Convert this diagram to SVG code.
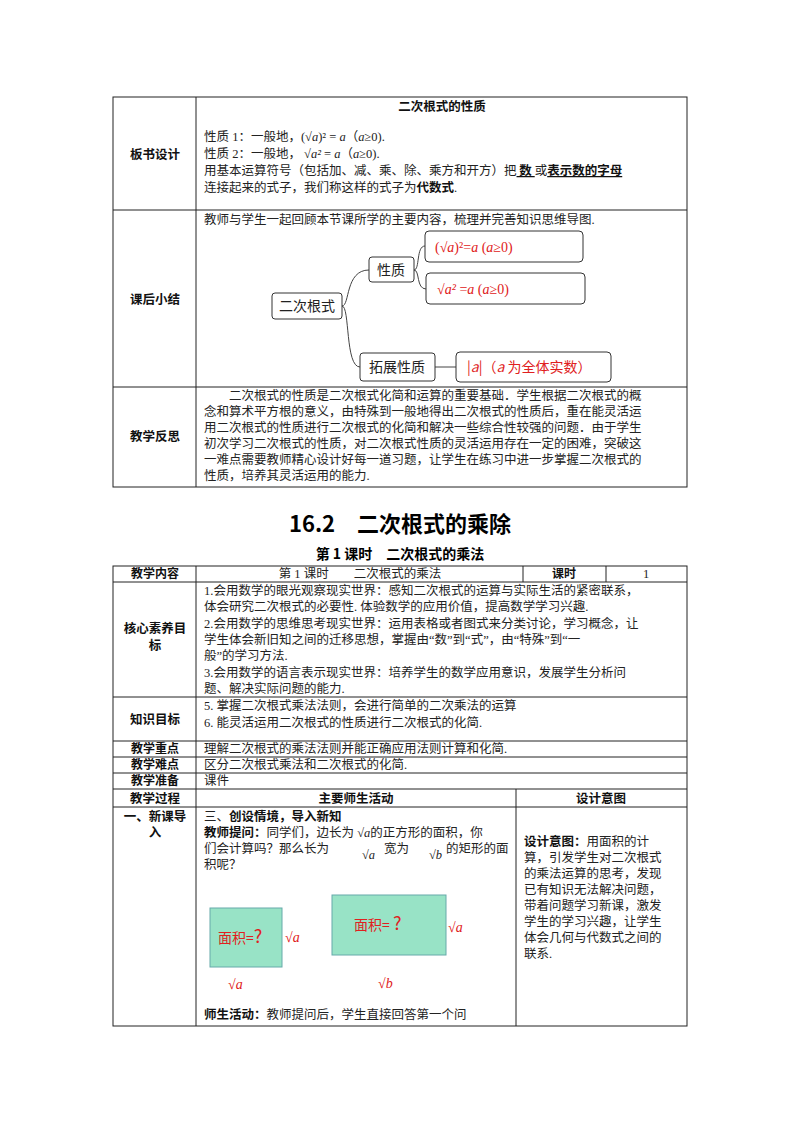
<svg xmlns="http://www.w3.org/2000/svg" width="800" height="1132" viewBox="0 0 800 1132">
<style>
.t{font-family:"Liberation Serif","Noto Sans CJK SC",serif;font-size:12.5px;fill:#222}
.b{font-family:"Noto Sans CJK SC",sans-serif;font-size:12.5px;font-weight:bold;fill:#111}
.s{font-size:12px}
.r{font-family:"Liberation Serif","Noto Sans CJK SC",serif;font-size:14px;fill:#e02020}
.rs{font-family:"Noto Sans CJK SC",sans-serif;font-size:14px;fill:#e02020}
.n{font-family:"Noto Sans CJK SC",sans-serif;font-size:14px;fill:#222}
.g line,.g rect{stroke:#222;stroke-width:1;fill:none}
.box{fill:#fff;stroke:#333;stroke-width:1}
.c{fill:none;stroke:#444;stroke-width:1}
.sq{fill:#98e3c6;stroke:#6aa;stroke-width:1}
</style>
<rect width="800" height="1132" fill="#fff"/>
<g class="g" id="table1">
<rect x="113" y="97" width="574" height="390"/>
<line x1="196" y1="97" x2="196" y2="487"/>
<line x1="113" y1="210" x2="687" y2="210"/>
<line x1="113" y1="387" x2="687" y2="387"/>
</g>
<text class="b" x="155" y="159" text-anchor="middle">板书设计</text>
<text class="b" x="155" y="304" text-anchor="middle">课后小结</text>
<text class="b" x="155" y="441" text-anchor="middle">教学反思</text>
<text class="b" x="442" y="111" text-anchor="middle">二次根式的性质</text>
<text class="t" x="204" y="141">性质 1：一般地，(<tspan font-style="italic">√a</tspan>)² = <tspan font-style="italic">a</tspan>（<tspan font-style="italic">a</tspan>≥0).</text>
<text class="t" x="204" y="158">性质 2：一般地，   <tspan font-style="italic">√a²</tspan> = <tspan font-style="italic">a</tspan>（<tspan font-style="italic">a</tspan>≥0).</text>
<text class="t" x="204" y="175">用基本运算符号（包括加、减、乘、除、乘方和开方）把<tspan class="b" text-decoration="underline">  数  </tspan>或<tspan class="b" text-decoration="underline">表示数的字母</tspan></text>
<text class="t" x="204" y="192">连接起来的式子，我们称这样的式子为<tspan class="b">代数式</tspan>.</text>
<text class="t" x="204" y="224">教师与学生一起回顾本节课所学的主要内容，梳理并完善知识思维导图.</text>
<g id="connectors">
<path class="c" d="M342,306 C350,306 345,270 369,270"/>
<path class="c" d="M342,306 C350,306 345,367 360,367"/>
<path class="c" d="M414,270 C420,270 416,246 425,246"/>
<path class="c" d="M414,270 C420,270 416,289 426,289"/>
<path class="c" d="M435,367 L456,367"/>
</g>
<g id="n1"><rect class="box" x="272" y="293" width="70" height="26" rx="3"/><text class="n" x="307" y="311" text-anchor="middle">二次根式</text></g>
<g id="n2"><rect class="box" x="369" y="257" width="45" height="25" rx="3"/><text class="n" x="391" y="275" text-anchor="middle">性质</text></g>
<g id="n3"><rect class="box" x="425" y="231" width="158" height="31" rx="4"/><text class="r" x="435" y="252">(<tspan font-style="italic">√a</tspan>)²=<tspan font-style="italic">a</tspan> (<tspan font-style="italic">a</tspan>≥0)</text></g>
<g id="n4"><rect class="box" x="426" y="273" width="159" height="31" rx="4"/><text class="r" x="437" y="294"><tspan font-style="italic">√a²</tspan> =<tspan font-style="italic">a</tspan> (<tspan font-style="italic">a</tspan>≥0)</text></g>
<g id="n5"><rect class="box" x="360" y="353" width="75" height="28" rx="3"/><text class="n" x="397" y="372" text-anchor="middle">拓展性质</text></g>
<g id="n6"><rect class="box" x="456" y="352" width="155" height="30" rx="4"/><text class="rs" x="467" y="372">|<tspan font-style="italic">a</tspan>|（<tspan font-style="italic">a</tspan> 为全体实数）</text></g>
<text class="t" x="229" y="400">二次根式的性质是二次根式化简和运算的重要基础．学生根据二次根式的概</text>
<text class="t" x="204" y="416">念和算术平方根的意义，由特殊到一般地得出二次根式的性质后，重在能灵活运</text>
<text class="t" x="204" y="432">用二次根式的性质进行二次根式的化简和解决一些综合性较强的问题．由于学生</text>
<text class="t" x="204" y="448">初次学习二次根式的性质，对二次根式性质的灵活运用存在一定的困难，突破这</text>
<text class="t" x="204" y="464">一难点需要教师精心设计好每一道习题，让学生在练习中进一步掌握二次根式的</text>
<text class="t" x="204" y="480">性质，培养其灵活运用的能力.</text>
<text x="400" y="532" text-anchor="middle" style="font-family:'Noto Sans CJK SC',sans-serif;font-size:22px;font-weight:bold">16.2　二次根式的乘除</text>
<text x="400" y="559" text-anchor="middle" style="font-family:'Noto Sans CJK SC',sans-serif;font-size:14px;font-weight:bold">第 1 课时　二次根式的乘法</text>
<g class="g" id="table2">
<rect x="113" y="566" width="574" height="460"/>
<line x1="196" y1="566" x2="196" y2="1026"/>
<line x1="523" y1="566" x2="523" y2="582"/>
<line x1="606" y1="566" x2="606" y2="582"/>
<line x1="516" y1="789" x2="516" y2="1026"/>
<line x1="113" y1="582" x2="687" y2="582"/>
<line x1="113" y1="697" x2="687" y2="697"/>
<line x1="113" y1="741" x2="687" y2="741"/>
<line x1="113" y1="757" x2="687" y2="757"/>
<line x1="113" y1="773" x2="687" y2="773"/>
<line x1="113" y1="789" x2="687" y2="789"/>
<line x1="113" y1="807" x2="687" y2="807"/>
</g>
<text class="b s" x="155" y="578" text-anchor="middle">教学内容</text>
<text class="t" x="360" y="578" text-anchor="middle">第 1 课时　　二次根式的乘法</text>
<text class="b s" x="564" y="578" text-anchor="middle">课时</text>
<text class="t" x="646" y="578" text-anchor="middle">1</text>
<text class="b" x="155" y="633" text-anchor="middle">核心素养目</text>
<text class="b" x="155" y="650" text-anchor="middle">标</text>
<text class="t" x="204" y="595">1.会用数学的眼光观察现实世界：感知二次根式的运算与实际生活的紧密联系，</text>
<text class="t" x="204" y="611">体会研究二次根式的必要性. 体验数学的应用价值，提高数学学习兴趣.</text>
<text class="t" x="204" y="628">2.会用数学的思维思考现实世界：运用表格或者图式来分类讨论，学习概念，让</text>
<text class="t" x="204" y="644">学生体会新旧知之间的迁移思想，掌握由“数”到“式”，由“特殊”到“一</text>
<text class="t" x="204" y="660">般”的学习方法.</text>
<text class="t" x="204" y="677">3.会用数学的语言表示现实世界：培养学生的数学应用意识，发展学生分析问</text>
<text class="t" x="204" y="693">题、解决实际问题的能力.</text>
<text class="b" x="155" y="724" text-anchor="middle">知识目标</text>
<text class="t" x="204" y="710">5. 掌握二次根式乘法法则，会进行简单的二次乘法的运算</text>
<text class="t" x="204" y="727">6. 能灵活运用二次根式的性质进行二次根式的化简.</text>
<text class="b s" x="155" y="753" text-anchor="middle">教学重点</text>
<text class="t" x="204" y="753">理解二次根式的乘法法则并能正确应用法则计算和化简.</text>
<text class="b s" x="155" y="769" text-anchor="middle">教学难点</text>
<text class="t" x="204" y="769">区分二次根式乘法和二次根式的化简.</text>
<text class="b s" x="155" y="785" text-anchor="middle">教学准备</text>
<text class="t" x="204" y="785">课件</text>
<text class="b" x="155" y="803" text-anchor="middle">教学过程</text>
<text class="b" x="356" y="803" text-anchor="middle">主要师生活动</text>
<text class="b" x="601" y="803" text-anchor="middle">设计意图</text>
<text class="b" x="155" y="821" text-anchor="middle">一、新课导</text>
<text class="b" x="155" y="837" text-anchor="middle">入</text>
<text class="t" x="204" y="821">三、<tspan class="b">创设情境，导入新知</tspan></text>
<text class="t" x="204" y="837"><tspan class="b">教师提问：</tspan>同学们，边长为 <tspan font-style="italic">√a</tspan>的正方形的面积，你</text>
<text class="t" x="204" y="853">们会计算吗？那么长为</text>
<text class="t" x="362" y="859" font-style="italic">√a</text>
<text class="t" x="384" y="853">宽为</text>
<text class="t" x="429" y="859" font-style="italic">√b</text>
<text class="t" x="446" y="853">的矩形的面</text>
<text class="t" x="204" y="869">积呢？</text>
<g id="sq1"><rect class="sq" x="210" y="908" width="72" height="59"/><text class="rs" x="218" y="943">面积=<tspan font-size="18">?</tspan></text></g>
<text class="r" x="285" y="942" font-style="italic" font-size="16">√a</text>
<text class="r" x="228" y="989" font-style="italic" font-size="16">√a</text>
<g id="sq2"><rect class="sq" x="332" y="895" width="114" height="60"/><text class="rs" x="354" y="930">面积= <tspan font-size="18">?</tspan></text></g>
<text class="r" x="448" y="932" font-style="italic" font-size="16">√a</text>
<text class="r" x="378" y="988" font-style="italic" font-size="16">√b</text>
<text class="t" x="204" y="1019"><tspan class="b">师生活动：</tspan>教师提问后，学生直接回答第一个问</text>
<text class="t" x="524" y="846"><tspan class="b">设计意图：</tspan>用面积的计</text>
<text class="t" x="524" y="862">算，引发学生对二次根式</text>
<text class="t" x="524" y="878">的乘法运算的思考，发现</text>
<text class="t" x="524" y="894">已有知识无法解决问题，</text>
<text class="t" x="524" y="910">带着问题学习新课，激发</text>
<text class="t" x="524" y="926">学生的学习兴趣，让学生</text>
<text class="t" x="524" y="942">体会几何与代数式之间的</text>
<text class="t" x="524" y="958">联系.</text>
</svg>
